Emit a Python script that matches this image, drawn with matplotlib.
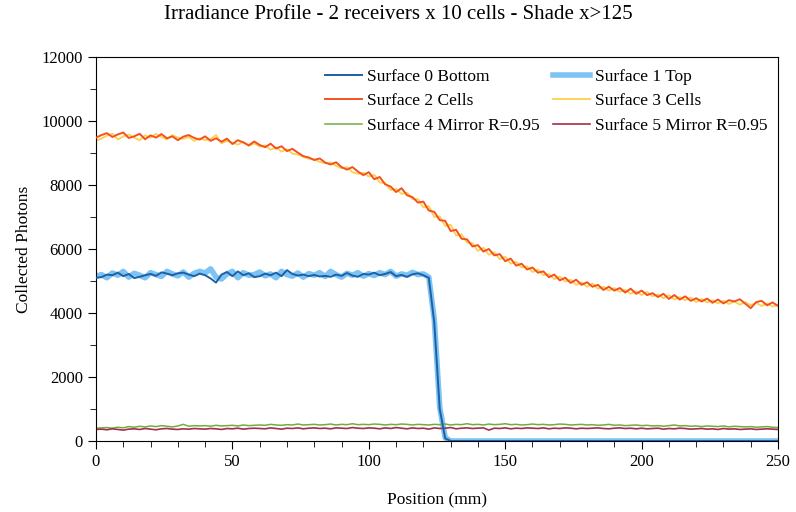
import numpy as np
import matplotlib
matplotlib.use("Agg")
import matplotlib.pyplot as plt
from matplotlib.ticker import MultipleLocator

plt.rcParams['font.family'] = ['Liberation Serif', 'DejaVu Serif']

# position grid (mm), one sample every 2 mm
x = np.arange(0, 252, 2)

s0_bottom = [
    5100, 5120, 5200, 5180, 5260, 5150, 5220, 5090, 5130, 5180,
    5220, 5160, 5270, 5230, 5180, 5240, 5260, 5200, 5150, 5230,
    5180, 5080, 4950, 5200, 5280, 5150, 5300, 5180, 5240, 5120,
    5150, 5230, 5180, 5260, 5150, 5340, 5220, 5170, 5200, 5150,
    5190, 5140, 5160, 5130, 5200, 5160, 5250, 5170, 5130, 5220,
    5200, 5260, 5180, 5220, 5280, 5150, 5190, 5130, 5210, 5240,
    5180, 5100, 3700, 1000, 80, 0, 0, 0, 0, 0,
    0, 0, 0, 0, 0, 0, 0, 0, 0, 0,
    0, 0, 0, 0, 0, 0, 0, 0, 0, 0,
    0, 0, 0, 0, 0, 0, 0, 0, 0, 0,
    0, 0, 0, 0, 0, 0, 0, 0, 0, 0,
    0, 0, 0, 0, 0, 0, 0, 0, 0, 0,
    0, 0, 0, 0, 0, 0,
]
s1_top = [
    5150, 5200, 5100, 5250, 5180, 5300, 5120, 5240, 5180, 5100,
    5260, 5200, 5140, 5300, 5220, 5160, 5280, 5120, 5240, 5300,
    5250, 5380, 5120, 5060, 5220, 5300, 5100, 5260, 5180, 5200,
    5280, 5160, 5220, 5100, 5300, 5200, 5150, 5250, 5120, 5230,
    5180, 5260, 5140, 5300, 5200, 5120, 5240, 5180, 5260, 5150,
    5230, 5170, 5260, 5200, 5300, 5150, 5220, 5180, 5270, 5200,
    5220, 5120, 3800, 1050, 100, 0, 0, 0, 0, 0,
    0, 0, 0, 0, 0, 0, 0, 0, 0, 0,
    0, 0, 0, 0, 0, 0, 0, 0, 0, 0,
    0, 0, 0, 0, 0, 0, 0, 0, 0, 0,
    0, 0, 0, 0, 0, 0, 0, 0, 0, 0,
    0, 0, 0, 0, 0, 0, 0, 0, 0, 0,
    0, 0, 0, 0, 0, 0,
]
s2_cells = [
    9480, 9560, 9620, 9500, 9580, 9640, 9470, 9520, 9600, 9430,
    9550, 9480, 9590, 9460, 9520, 9400, 9510, 9560, 9470, 9420,
    9520, 9380, 9460, 9350, 9450, 9280, 9400, 9330, 9240, 9360,
    9250, 9180, 9290, 9140, 9210, 9060, 9130, 9010, 8900, 8860,
    8780, 8830, 8700, 8640, 8710, 8560, 8480, 8560, 8420, 8310,
    8400, 8180, 8250, 8020, 7950, 7780, 7900, 7680, 7620, 7450,
    7480, 7200, 7160, 6900, 6880, 6560, 6600, 6320, 6300, 6080,
    6120, 5920, 6000, 5800, 5840, 5620, 5700, 5480, 5540, 5360,
    5420, 5260, 5300, 5120, 5200, 5020, 5100, 4940, 5040, 4880,
    4960, 4820, 4880, 4720, 4820, 4700, 4780, 4640, 4760, 4600,
    4700, 4560, 4620, 4500, 4600, 4440, 4560, 4420, 4520, 4380,
    4460, 4360, 4450, 4320, 4420, 4300, 4400, 4360, 4430, 4290,
    4150, 4340, 4380, 4240, 4330, 4220,
]
s3_cells = [
    9380, 9450, 9540, 9600, 9420, 9520, 9580, 9480, 9400, 9550,
    9480, 9600, 9500, 9420, 9560, 9480, 9440, 9500, 9380, 9460,
    9400, 9440, 9560, 9300, 9380, 9320, 9260, 9350, 9220, 9300,
    9200, 9240, 9100, 9180, 9040, 9120, 8980, 8950, 8880, 8820,
    8800, 8720, 8680, 8700, 8600, 8520, 8560, 8400, 8350, 8380,
    8260, 8320, 8080, 8060, 7840, 7880, 7720, 7760, 7560, 7560,
    7300, 7340, 7000, 7020, 6720, 6760, 6420, 6460, 6200, 6180,
    5940, 6040, 5820, 5900, 5680, 5760, 5540, 5600, 5420, 5460,
    5280, 5360, 5180, 5220, 5060, 5140, 4980, 5040, 4880, 4960,
    4820, 4920, 4760, 4820, 4700, 4780, 4660, 4720, 4600, 4680,
    4560, 4660, 4520, 4580, 4460, 4560, 4420, 4500, 4400, 4480,
    4340, 4440, 4330, 4400, 4300, 4380, 4280, 4360, 4260, 4340,
    4240, 4320, 4220, 4300, 4200, 4260,
]
s4_mirror = [
    400, 410, 420, 400, 430, 410, 450, 430, 460, 440,
    470, 450, 480, 460, 440, 470, 520, 460, 480, 470,
    480, 460, 490, 470, 480, 490, 470, 500, 480, 490,
    500, 490, 520, 500, 490, 510, 500, 530, 500, 510,
    520, 500, 510, 530, 500, 520, 510, 540, 510, 520,
    510, 530, 520, 500, 520, 510, 530, 520, 500, 520,
    510, 500, 520, 510, 530, 500, 520, 510, 540, 510,
    520, 500, 530, 510, 520, 540, 510, 520, 500, 510,
    530, 510, 520, 500, 510, 530, 520, 500, 510, 520,
    500, 510, 490, 500, 520, 490, 500, 480, 490, 500,
    480, 490, 470, 480, 460, 480, 500, 470, 480, 460,
    470, 450, 470, 460, 450, 470, 440, 460, 450, 440,
    450, 430, 440, 450, 430, 420,
]
s5_mirror = [
    360, 370, 350, 380, 360, 340, 370, 380, 360, 390,
    370, 350, 380, 390, 370, 360, 380, 370, 390, 380,
    370, 390, 380, 360, 390, 380, 400, 370, 390, 400,
    390, 380, 410, 390, 370, 400, 390, 410, 380, 400,
    410, 390, 400, 380, 410, 400, 390, 420, 400, 390,
    410, 400, 380, 410, 390, 420, 400, 380, 410, 390,
    400, 370, 410, 390, 400, 420, 380, 400, 410, 390,
    400, 410, 340, 400, 390, 410, 380, 400, 390, 410,
    400, 390, 410, 380, 400, 390, 410, 400, 380, 400,
    390, 400, 410, 390, 380, 400, 410, 390, 400, 380,
    400, 380, 390, 400, 370, 390, 380, 400, 390, 370,
    380, 390, 370, 380, 360, 390, 370, 380, 360, 370,
    380, 360, 370, 380, 370, 360,
]

fig = plt.figure(figsize=(7.96, 5.12), dpi=100)
ax = fig.add_axes([0.1206, 0.1387, 0.8568, 0.75])

ax.plot(x, s1_top, color='#7cc4f4', lw=4, label='Surface 1 Top', zorder=2)
ax.plot(x, s0_bottom, color='#1f5fa6', lw=1.4, label='Surface 0 Bottom', zorder=3)
ax.plot(x, s3_cells, color='#ffd04a', lw=1.3, label='Surface 3 Cells', zorder=2)
ax.plot(x, s2_cells, color='#f4511e', lw=1.4, label='Surface 2 Cells', zorder=3)
ax.plot(x, s4_mirror, color='#6fae3c', lw=1.1, label='Surface 4 Mirror R=0.95', zorder=2)
ax.plot(x, s5_mirror, color='#a3304c', lw=1.2, label='Surface 5 Mirror R=0.95', zorder=2)

ax.set_xlim(0, 250)
ax.set_ylim(0, 12000)
ax.xaxis.set_major_locator(MultipleLocator(50))
ax.xaxis.set_minor_locator(MultipleLocator(10))
ax.yaxis.set_major_locator(MultipleLocator(2000))
ax.yaxis.set_minor_locator(MultipleLocator(1000))
ax.tick_params(which='major', direction='out', length=6, labelsize=12)
ax.tick_params(which='minor', direction='out', length=4)

ax.set_xlabel('Position (mm)', fontsize=12.5, labelpad=16)
ax.set_ylabel('Collected Photons', fontsize=12.5, labelpad=7)
fig.suptitle('Irradiance Profile - 2 receivers x 10 cells - Shade x>125', fontsize=15, y=0.99)

# legend order as in the reference
h, l = ax.get_legend_handles_labels()
order = ['Surface 0 Bottom', 'Surface 1 Top', 'Surface 2 Cells',
         'Surface 3 Cells', 'Surface 4 Mirror R=0.95', 'Surface 5 Mirror R=0.95']
idx = [l.index(o) for o in order]
# ncol=2 fills column-wise, so rearrange to row-wise
col1 = [idx[0], idx[2], idx[4]]
col2 = [idx[1], idx[3], idx[5]]
handles = [h[i] for i in col1 + col2]
labels = [l[i] for i in col1 + col2]
ax.legend(handles, labels, ncol=2, loc='upper left', bbox_to_anchor=(0.336, 0.97),
          frameon=False, fontsize=12.5, handlelength=2.1, columnspacing=0.8,
          labelspacing=0.5, handletextpad=0.3, borderpad=0, borderaxespad=0)

fig.savefig('out.png', dpi=100)
